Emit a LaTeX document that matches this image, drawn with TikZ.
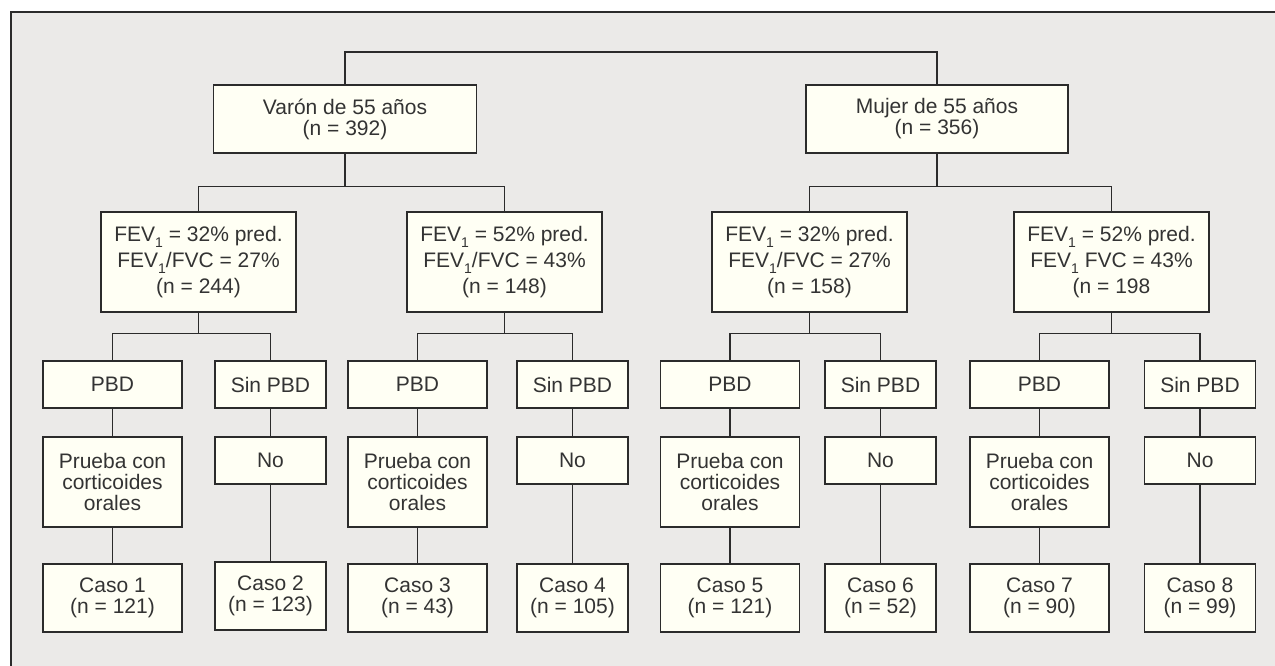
\documentclass[tikz,border=0pt]{standalone}
\usepackage{fontspec}
\setmainfont{Liberation Sans}
\usepackage{tikz}
\definecolor{fondo}{HTML}{EBEAE8}
\definecolor{crema}{HTML}{FFFFF4}
\definecolor{linea}{HTML}{2B2B2B}
\definecolor{letra}{HTML}{333333}
\newcommand{\fevuno}{FEV\raisebox{-6pt}{\fontsize{14}{14}\selectfont 1}}
\tikzset{
	caja/.style 2 args={draw=linea,fill=crema,text=letra,line width=1.2pt,inner sep=0pt,align=center,
		minimum width=#1,minimum height=#2,font=\fontsize{21}{21}\selectfont},
	fev/.style={caja={195pt}{100pt},font=\fontsize{21}{26}\selectfont},
	con/.style={draw=linea,line width=1.2pt}
}
\begin{document}
\begin{tikzpicture}[x=1pt,y=-1pt]
						\useasboundingbox (0,0) rectangle (1275,666);
						\fill[fondo] (11,12) rectangle (1275,666);
						\draw[con] (11,666) -- (11,12) -- (1275,12);

						\node [caja={263pt}{68pt}] (varon) at (345,119) {Varón de 55 años\\(n = 392)};
						\node [caja={262pt}{68pt}] (mujer) at (937,119) {Mujer de 55 años\\(n = 356)};

						\node [fev] (fevA) at (198.5,262) {\fevuno{} = 32\% pred.\\\fevuno/FVC = 27\%\\(n = 244)};
						\node [fev] (fevB) at (504.5,262) {\fevuno{} = 52\% pred.\\\fevuno/FVC = 43\%\\(n = 148)};
						\node [fev] (fevC) at (809.5,262) {\fevuno{} = 32\% pred.\\\fevuno/FVC = 27\%\\(n = 158)};
						\node [fev] (fevD) at (1111.5,262) {\fevuno{} = 52\% pred.\\\fevuno{} FVC = 43\%\\(n = 198};

						\node [caja={139pt}{47pt}] (pbd1) at (112.5,384.5) {PBD};
						\node [caja={111pt}{47pt}] (sin2) at (270.5,384.5) {Sin PBD};
						\node [caja={139pt}{47pt}] (pbd3) at (417.5,384.5) {PBD};
						\node [caja={111pt}{47pt}] (sin4) at (572.5,384.5) {Sin PBD};
						\node [caja={139pt}{47pt}] (pbd5) at (730,384.5) {PBD};
						\node [caja={111pt}{47pt}] (sin6) at (880.5,384.5) {Sin PBD};
						\node [caja={139pt}{47pt}] (pbd7) at (1039.5,384.5) {PBD};
						\node [caja={111pt}{47pt}] (sin8) at (1200,384.5) {Sin PBD};

						\node [caja={139pt}{90pt}] (prueba1) at (112.5,482) {Prueba con\\corticoides\\orales};
						\node [caja={111pt}{47pt}] (no2) at (270.5,460.5) {No};
						\node [caja={139pt}{90pt}] (prueba3) at (417.5,482) {Prueba con\\corticoides\\orales};
						\node [caja={111pt}{47pt}] (no4) at (572.5,460.5) {No};
						\node [caja={139pt}{90pt}] (prueba5) at (730,482) {Prueba con\\corticoides\\orales};
						\node [caja={111pt}{47pt}] (no6) at (880.5,460.5) {No};
						\node [caja={139pt}{90pt}] (prueba7) at (1039.5,482) {Prueba con\\corticoides\\orales};
						\node [caja={111pt}{47pt}] (no8) at (1200,460.5) {No};

						\node [caja={139pt}{68pt}] (caso1) at (112.5,598) {Caso 1\\(n = 121)};
						\node [caja={111pt}{68pt}] (caso2) at (270.5,596) {Caso 2\\(n = 123)};
						\node [caja={139pt}{68pt}] (caso3) at (417.5,598) {Caso 3\\(n = 43)};
						\node [caja={111pt}{68pt}] (caso4) at (572.5,598) {Caso 4\\(n = 105)};
						\node [caja={139pt}{68pt}] (caso5) at (730,598) {Caso 5\\(n = 121)};
						\node [caja={111pt}{68pt}] (caso6) at (880.5,598) {Caso 6\\(n = 52)};
						\node [caja={139pt}{68pt}] (caso7) at (1039.5,598) {Caso 7\\(n = 90)};
						\node [caja={111pt}{68pt}] (caso8) at (1200,598) {Caso 8\\(n = 99)};

						\coordinate (raiz) at (640,52);
						\draw[con] (varon.north) |- (raiz) -| (mujer.north);

						\draw[con] (varon.south) -- ++(0,33) coordinate (bv);
						\draw[con] (fevA.north) |- (bv) -| (fevB.north);
						\draw[con] (mujer.south) -- ++(0,33) coordinate (bm);
						\draw[con] (fevC.north) |- (bm) -| (fevD.north);

						\draw[con] (fevA.south) -- ++(0,21) coordinate (ba);
						\draw[con] (pbd1.north) |- (ba) -| (sin2.north);
						\draw[con] (fevB.south) -- ++(0,21) coordinate (bb);
						\draw[con] (pbd3.north) |- (bb) -| (sin4.north);
						\draw[con] (fevC.south) -- ++(0,21) coordinate (bc);
						\draw[con] (pbd5.north) |- (bc) -| (sin6.north);
						\draw[con] (fevD.south) -- ++(0,21) coordinate (bd);
						\draw[con] (pbd7.north) |- (bd) -| (sin8.north);

						\draw[con] (pbd1) -- (prueba1) -- (caso1);
						\draw[con] (sin2) -- (no2) -- (caso2);
						\draw[con] (pbd3) -- (prueba3) -- (caso3);
						\draw[con] (sin4) -- (no4) -- (caso4);
						\draw[con] (pbd5) -- (prueba5) -- (caso5);
						\draw[con] (sin6) -- (no6) -- (caso6);
						\draw[con] (pbd7) -- (prueba7) -- (caso7);
						\draw[con] (sin8) -- (no8) -- (caso8);
					\end{tikzpicture}
\end{document}
